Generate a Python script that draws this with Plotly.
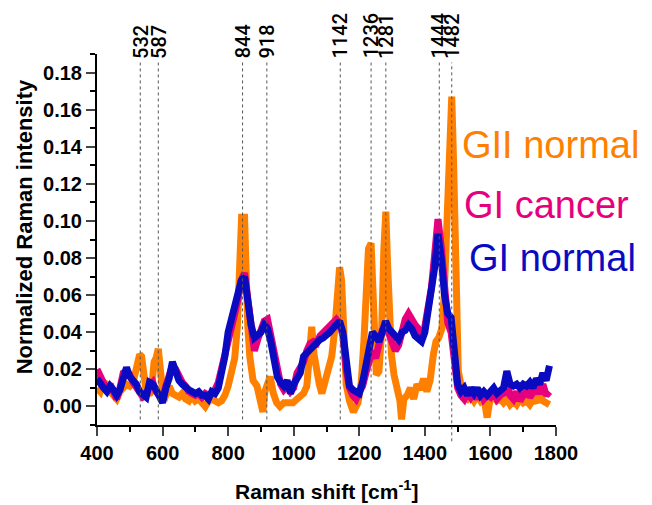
import plotly.graph_objects as go

# ---------------- data ----------------
shift_gi = [400, 410, 420, 430, 440, 450, 460, 470, 480, 490, 500, 510, 520, 530, 540, 550, 560, 570, 580, 590,
            600, 610, 620, 630, 640, 650, 660, 670, 680, 690, 700, 710, 720, 730, 740, 750, 760, 770, 780, 790,
            800, 810, 820, 830, 840, 850, 860, 870, 880, 890, 900, 910, 920, 930, 940, 950, 960, 970, 980, 990,
            1000, 1010, 1020, 1030, 1040, 1050, 1060, 1070, 1080, 1090, 1100, 1110, 1120, 1130, 1140, 1150, 1160, 1170, 1180, 1190,
            1200, 1210, 1220, 1230, 1240, 1250, 1260, 1270, 1280, 1290, 1300, 1310, 1320, 1330, 1340, 1350, 1360, 1370, 1380, 1390,
            1400, 1410, 1420, 1430, 1440, 1450, 1460, 1470, 1480, 1490, 1500, 1510, 1520, 1530, 1540, 1550, 1560, 1570, 1580, 1590,
            1600, 1610, 1620, 1630, 1640, 1650, 1660, 1670, 1680, 1690, 1700, 1710, 1720, 1730, 1740, 1750, 1760, 1770, 1780]

gi_normal = [0.015, 0.012, 0.010, 0.008, 0.011, 0.009, 0.006, 0.009, 0.016, 0.021, 0.016, 0.014, 0.012, 0.008, 0.006, 0.005, 0.013, 0.012, 0.009, 0.005,
             0.002, 0.010, 0.015, 0.024, 0.018, 0.014, 0.012, 0.010, 0.009, 0.008, 0.007, 0.008, 0.006, 0.006, 0.004, 0.008, 0.007, 0.010, 0.018, 0.027,
             0.040, 0.047, 0.052, 0.062, 0.068, 0.070, 0.055, 0.044, 0.037, 0.038, 0.040, 0.044, 0.042, 0.035, 0.024, 0.016, 0.013, 0.011, 0.014, 0.007,
             0.012, 0.016, 0.018, 0.027, 0.029, 0.031, 0.033, 0.034, 0.036, 0.037, 0.038, 0.040, 0.042, 0.044, 0.046, 0.040, 0.022, 0.011, 0.009, 0.008,
             0.007, 0.013, 0.022, 0.035, 0.040, 0.038, 0.035, 0.040, 0.046, 0.042, 0.040, 0.037, 0.036, 0.040, 0.041, 0.044, 0.042, 0.038, 0.036, 0.035,
             0.040, 0.050, 0.060, 0.075, 0.093, 0.080, 0.060, 0.050, 0.048, 0.028, 0.012, 0.008, 0.010, 0.006, 0.010, 0.007, 0.010, 0.006, 0.008, 0.006,
             0.008, 0.010, 0.007, 0.008, 0.010, 0.019, 0.012, 0.011, 0.012, 0.010, 0.012, 0.011, 0.013, 0.010, 0.015, 0.012, 0.018, 0.014, 0.022]

gi_cancer = [0.020, 0.016, 0.012, 0.009, 0.012, 0.007, 0.004, 0.010, 0.018, 0.019, 0.017, 0.013, 0.010, 0.007, 0.005, 0.006, 0.011, 0.013, 0.008, 0.006,
             0.004, 0.011, 0.017, 0.022, 0.020, 0.016, 0.013, 0.011, 0.008, 0.007, 0.006, 0.007, 0.005, 0.007, 0.006, 0.007, 0.009, 0.013, 0.020, 0.026,
             0.034, 0.040, 0.050, 0.058, 0.068, 0.072, 0.058, 0.040, 0.030, 0.036, 0.042, 0.046, 0.047, 0.038, 0.026, 0.018, 0.012, 0.009, 0.011, 0.008,
             0.010, 0.018, 0.021, 0.024, 0.030, 0.034, 0.035, 0.034, 0.038, 0.040, 0.041, 0.044, 0.046, 0.047, 0.045, 0.038, 0.020, 0.010, 0.006, 0.004,
             0.008, 0.011, 0.018, 0.026, 0.030, 0.026, 0.034, 0.041, 0.044, 0.040, 0.036, 0.030, 0.033, 0.042, 0.047, 0.050, 0.046, 0.044, 0.042, 0.037,
             0.043, 0.052, 0.064, 0.082, 0.101, 0.086, 0.062, 0.045, 0.040, 0.024, 0.010, 0.006, 0.004, 0.008, 0.005, 0.008, 0.004, 0.009, 0.004, 0.006,
             0.005, 0.008, 0.004, 0.006, 0.007, 0.014, 0.006, 0.004, 0.008, 0.003, 0.006, 0.009, 0.005, 0.008, 0.010, 0.007, 0.012, 0.006, 0.008]

shift_gii = [400, 410, 420, 430, 440, 450, 460, 470, 480, 490, 500, 510, 518, 524, 530, 536, 542, 550, 560, 568,
             574, 580, 587, 592, 600, 610, 620, 630, 640, 650, 660, 670, 680, 690, 700, 710, 720, 730, 740, 750,
             760, 770, 780, 790, 800, 810, 820, 828, 836, 841, 850, 855, 860, 866, 876, 888, 898, 906, 912, 920,
             928, 938, 948, 958, 970, 984, 998, 1010, 1020, 1030, 1040, 1050, 1055, 1062, 1070, 1078, 1086, 1096, 1106, 1116,
             1126, 1133, 1140, 1146, 1152, 1160, 1170, 1182, 1196, 1206, 1214, 1222, 1228, 1236, 1241, 1246, 1252, 1260, 1268, 1275,
             1281, 1286, 1292, 1298, 1306, 1316, 1324, 1329, 1336, 1346, 1356, 1366, 1376, 1386, 1396, 1406, 1416, 1426, 1434, 1442,
             1452, 1459, 1465, 1470, 1474, 1478, 1482, 1487, 1492, 1497, 1502, 1512, 1522, 1530, 1540, 1550, 1560, 1570, 1580, 1590,
             1598, 1610, 1620, 1630, 1640, 1650, 1660, 1670, 1680, 1690, 1700, 1710, 1720, 1730, 1740, 1750, 1760, 1770, 1780]

gii_normal = [0.010, 0.008, 0.013, 0.012, 0.008, 0.006, 0.004, 0.008, 0.010, 0.012, 0.011, 0.013, 0.019, 0.027, 0.028, 0.027, 0.014, 0.008, 0.006, 0.012,
              0.024, 0.026, 0.031, 0.020, 0.008, 0.006, 0.011, 0.007, 0.006, 0.005, 0.007, 0.004, 0.003, 0.006, 0.003, 0.004, 0.002, 0.000, 0.003, 0.004,
              0.003, 0.002, 0.003, 0.006, 0.011, 0.018, 0.026, 0.043, 0.070, 0.102, 0.102, 0.060, 0.043, 0.027, 0.014, 0.011, 0.002, -0.003, 0.008, 0.013,
              0.016, 0.007, 0.002, 0.000, 0.002, 0.002, 0.002, 0.004, 0.005, 0.007, 0.011, 0.030, 0.043, 0.028, 0.018, 0.012, 0.007, 0.014, 0.018, 0.027,
              0.043, 0.063, 0.075, 0.068, 0.035, 0.012, 0.003, -0.003, 0.002, 0.013, 0.035, 0.070, 0.085, 0.088, 0.062, 0.035, 0.017, 0.019, 0.040, 0.085,
              0.105, 0.078, 0.046, 0.028, 0.017, 0.010, 0.003, -0.007, 0.004, 0.006, 0.010, 0.004, 0.012, 0.009, 0.015, 0.008, 0.014, 0.028, 0.035, 0.037,
              0.042, 0.060, 0.095, 0.125, 0.138, 0.158, 0.167, 0.136, 0.082, 0.046, 0.019, 0.010, 0.005, 0.004, 0.006, 0.003, 0.006, 0.003, 0.005, -0.006,
              0.003, 0.005, 0.003, 0.004, 0.002, 0.004, 0.001, 0.003, 0.001, 0.004, 0.002, 0.003, 0.001, 0.004, 0.002, 0.009, 0.003, 0.002, 0.001]

peak_positions = [532, 587, 844, 918, 1142, 1236, 1281, 1444, 1482]
series_names = ["GII normal", "GI cancer", "GI normal"]
series_colors = ["#FF8000", "#E6007E", "#0A0AC0"]

x_ticks = [400, 600, 800, 1000, 1200, 1400, 1600, 1800]

# ---------------- figure ----------------
fig = go.Figure()

series = [(shift_gii, gii_normal), (shift_gi, gi_cancer), (shift_gi, gi_normal)]
for (xs, ys), name, col in zip(series, series_names, series_colors):
    fig.add_trace(go.Scatter(x=xs, y=ys, mode="lines", name=name,
                             line=dict(color=col, width=7), showlegend=False))

# dotted marker lines and their labels
for p in peak_positions:
    bottom = -0.044 if p == 1482 else 0.015
    fig.add_shape(type="line", xref="x", yref="paper", x0=p, x1=p, y0=bottom, y1=0.977,
                  line=dict(color="#555555", width=1, dash="dot"), layer="above")
    fig.add_annotation(x=p, xref="x", y=0.982, yref="paper", text=str(p), textangle=-90,
                       showarrow=False, yanchor="bottom", xanchor="center",
                       font=dict(family="Roboto, Liberation Sans, Arial", size=20, color="black", weight=500))

# in-plot legend texts
legend_pos = [(0.791, 0.756), (0.796, 0.592), (0.807, 0.451)]
for name, col, (lx, ly) in zip(series_names, series_colors, legend_pos):
    fig.add_annotation(x=lx, y=ly, xref="paper", yref="paper", text=name, showarrow=False,
                       xanchor="left", yanchor="middle",
                       font=dict(family="Liberation Sans, Arial", size=38, color=col))

# axis titles
fig.add_annotation(x=-0.158, y=0.534, xref="paper", yref="paper", text="Normalized Raman intensity",
                   textangle=-90, showarrow=False, xanchor="center", yanchor="middle",
                   font=dict(family="Liberation Sans, Arial", size=22, color="black", weight="bold"))
fig.add_annotation(x=0.5, y=-0.174, xref="paper", yref="paper", text="Raman shift [cm<sup>-1</sup>]",
                   showarrow=False, xanchor="center", yanchor="middle",
                   font=dict(family="Liberation Sans, Arial", size=21, color="black", weight="bold"))

tickfont = dict(family="Liberation Sans, Arial", size=20, color="black", weight="bold")
fig.update_xaxes(range=[400, 1800], tickvals=x_ticks, ticks="outside", ticklen=9, tickwidth=2,
                 showline=True, linecolor="black", linewidth=2, showgrid=False, zeroline=False,
                 tickfont=tickfont,
                 minor=dict(dtick=100, tick0=400, ticks="outside", ticklen=5, tickwidth=2, tickcolor="black"))
fig.update_yaxes(range=[-0.01, 0.19], tick0=0, dtick=0.02, tickformat=".2f", ticks="outside", ticklen=9,
                 tickwidth=2, showline=True, linecolor="black", linewidth=2, showgrid=False, zeroline=False,
                 tickfont=tickfont,
                 minor=dict(dtick=0.01, tick0=0, ticks="outside", ticklen=5, tickwidth=2, tickcolor="black"))

fig.update_layout(width=652, height=505, margin=dict(l=97, r=96, t=54, b=80),
                  plot_bgcolor="white", paper_bgcolor="white", showlegend=False)

fig.write_html("out.html")
